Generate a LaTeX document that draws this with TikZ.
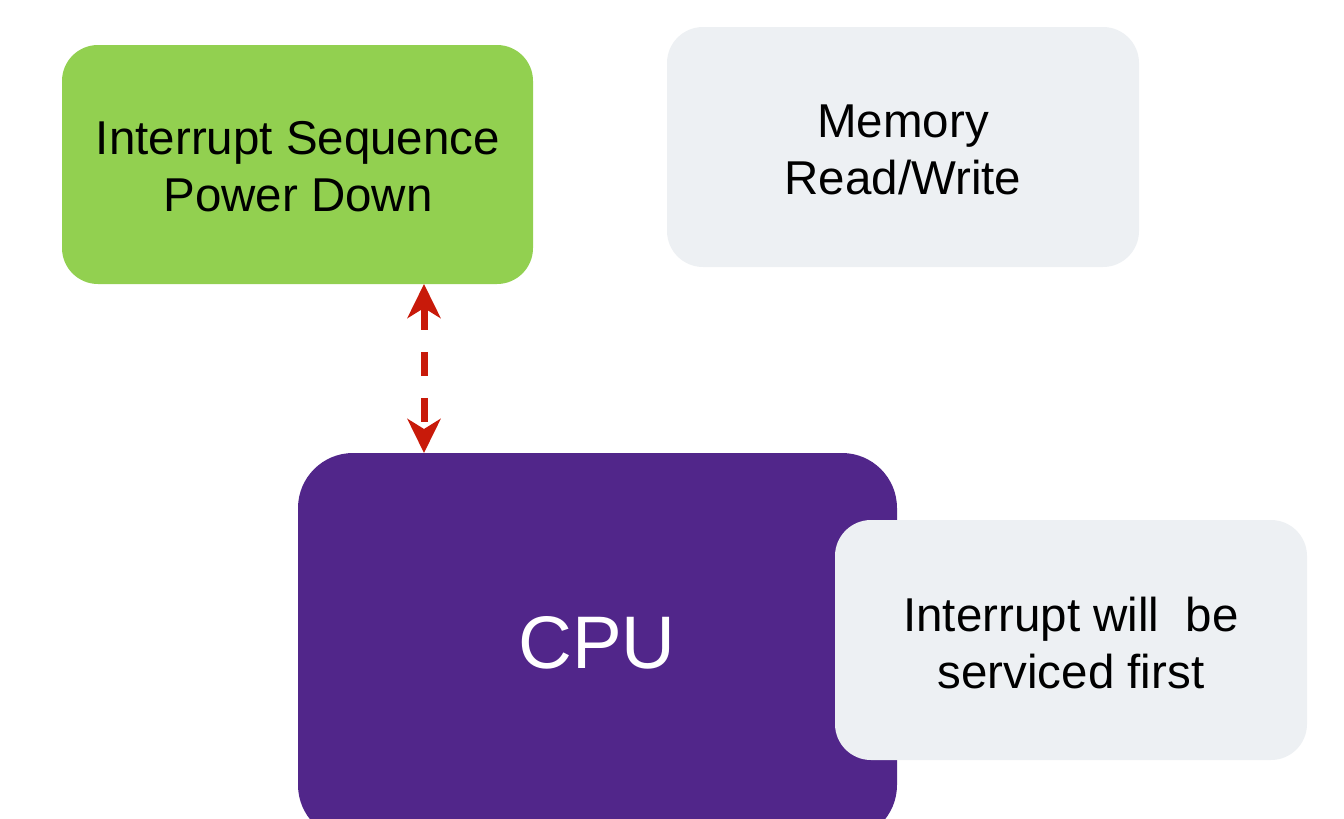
\documentclass[tikz,border=0pt]{standalone}
\usepackage{fontspec}
\setmainfont{Liberation Sans}
\usetikzlibrary{arrows.meta}
\definecolor{grn}{HTML}{92D050}
\definecolor{lgray}{HTML}{EDF0F3}
\definecolor{purp}{HTML}{51268A}
\definecolor{arrred}{HTML}{C81A0A}
\begin{document}
\begin{tikzpicture}[x=1pt,y=-1pt,
  txt/.style={font=\fontsize{47.5}{57}\selectfont, align=center, text=black},
  hd/.tip={Stealth[length=34pt,width=33pt,inset=10pt]}]
\useasboundingbox (0,0) rectangle (1344,819);
% boxes
\path[fill=grn, rounded corners=36pt] (62,45) rectangle (533,284);
\path[fill=lgray, rounded corners=36pt] (667,27) rectangle (1139,267);
\path[fill=purp, rounded corners=55pt] (298,453) rectangle (897,840);
\path[fill=lgray, rounded corners=36pt] (835,520) rectangle (1307,760);
% named nodes
\coordinate (gtop) at (424,284);
\coordinate (cputop) at (424,453);
\node[txt] (green) at (298,167) {Interrupt Sequence\\Power Down};
\node[txt] (mem) at (903,150) {Memory\\Read/Write};
\node[txt] (intr) at (1071,643) {Interrupt will\ \ be\\serviced first};
\node[font=\fontsize{74.5}{80}\selectfont, text=white] (cpu) at (597,643) {CPU};
\draw[arrred, line width=7pt, dash pattern=on 24pt off 22pt, {hd}-{hd}]
  (gtop) -- (cputop);
\end{tikzpicture}
\end{document}
